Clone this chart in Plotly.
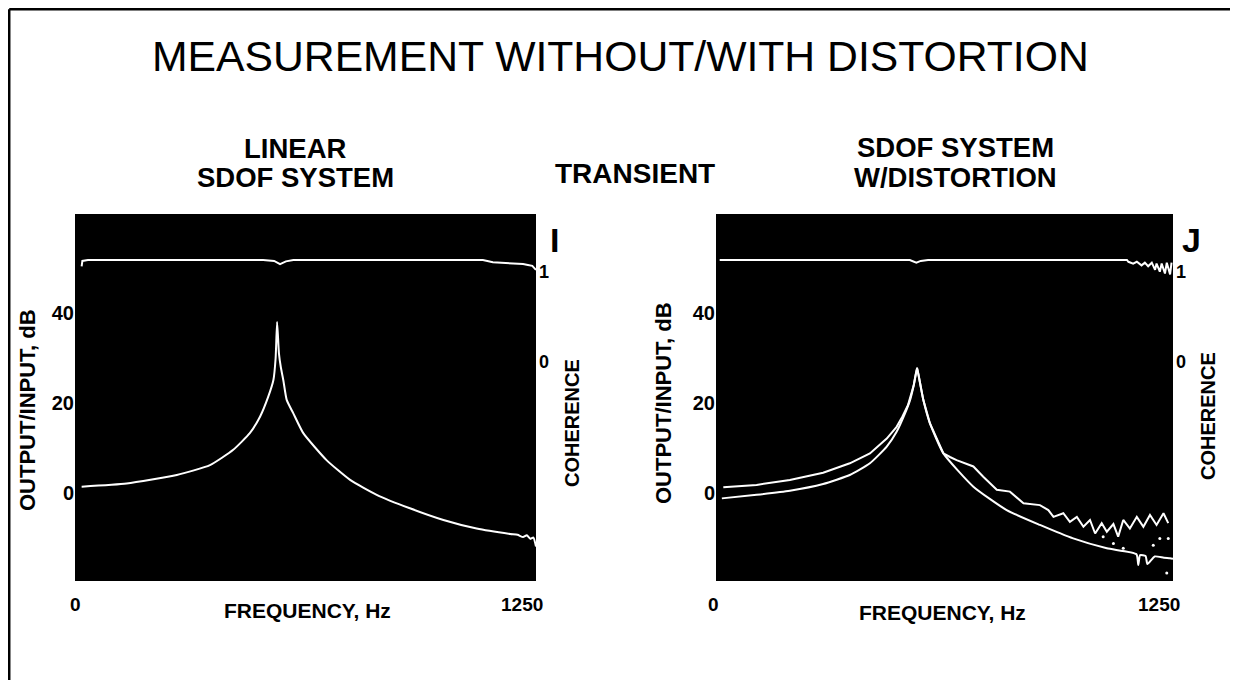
import plotly.graph_objects as go

# ---------------- data ----------------
# Left panel: linear SDOF system, transfer function (dB)
left_freq = [18, 140, 276, 366, 429, 474, 502, 524, 538, 544, 548, 553, 558, 565, 574,
             592, 619, 682, 746, 818, 908, 999, 1089, 1180, 1200, 1215, 1225, 1235, 1243, 1250]
left_db = [1.4, 2.1, 4.0, 6.2, 9.6, 13.3, 17.0, 21.4, 25.1, 30.0, 38.0, 31.0, 28.0, 25.0, 20.7,
           17.7, 13.3, 7.3, 2.9, -0.4, -3.4, -6.0, -7.9, -9.1, -9.3, -9.8, -9.4, -10.2, -9.9, -11.9]

# Left panel coherence
left_coh_freq = [18, 20, 35, 55, 80, 110, 200, 400, 510, 540, 556, 572, 592, 800, 1000,
                 1106, 1133, 1160, 1190, 1215, 1228, 1240, 1250]
left_coh = [0.93, 0.99, 1.0, 1.0, 1.0, 1.0, 1.0, 1.0, 1.0, 0.99, 0.955, 0.985, 1.0, 1.0, 1.0,
            1.0, 0.975, 0.97, 0.965, 0.955, 0.945, 0.935, 0.89]

# Right panel: SDOF system with distortion, smooth estimate (dB)
right_a_freq = [16, 111, 202, 293, 366, 421, 467, 494, 517, 531, 541, 550, 558, 567, 585,
                622, 704, 795, 886, 977, 1069, 1150, 1155, 1160, 1175, 1180, 1200, 1225, 1242, 1250]
right_a_db = [-1.2, -0.4, 0.5, 2.0, 4.0, 6.6, 10.3, 13.6, 17.7, 20.7, 24.0, 27.8, 24.5, 20.7, 15.5,
              8.8, 1.4, -3.8, -7.1, -10.1, -12.3, -13.6, -16.0, -13.8, -14.0, -15.8, -14.1, -14.4, -14.5, -14.6]

# Right panel: distorted estimate (dB)
right_b_freq = [20, 111, 202, 293, 366, 421, 467, 494, 510, 525, 541, 550, 558, 567, 585,
                622, 640, 658, 704, 731, 768, 804, 841, 886, 909, 923, 950, 968, 987, 1005,
                1023, 1037, 1055, 1069, 1087, 1100, 1114, 1132, 1151, 1169, 1187, 1205, 1224, 1237]
right_b_db = [1.3, 1.8, 2.9, 4.5, 6.6, 8.8, 12.1, 14.7, 17.0, 19.5, 24.0, 27.8, 24.5, 20.7, 15.5,
              8.8, 8.0, 7.3, 5.9, 3.6, 0.7, 0.3, -2.3, -2.7, -3.8, -5.3, -4.5, -6.4, -5.3, -7.5,
              -6.0, -9.0, -6.7, -8.6, -6.9, -9.7, -6.0, -7.9, -5.3, -7.5, -4.9, -7.1, -4.5, -6.7]

# Right panel: scattered points
right_dot_freq = [1059, 1087, 1114, 1196, 1214, 1237, 1233]
right_dot_db = [-9.7, -11.2, -12.3, -11.6, -10.1, -10.1, -17.8]

# Right panel coherence
right_coh_freq = [10, 200, 400, 530, 548, 560, 580, 800, 1000, 1124, 1128, 1141, 1151, 1164,
                  1173, 1182, 1192, 1201, 1205, 1214, 1219, 1228, 1233, 1242, 1246]
right_coh = [1.0, 1.0, 1.0, 1.0, 0.97, 0.99, 1.0, 1.0, 1.0, 1.0, 0.98, 0.96, 0.98, 0.94,
             0.97, 0.93, 0.97, 0.89, 0.96, 0.87, 0.96, 0.85, 0.97, 0.84, 0.97]

db_ticks = [0, 20, 40]
coh_ticks = [0, 1]
x_tick_labels = ["0", "1250"]
x_range = [0, 1250]
db_range = [-19.56, 62.0]
coh_range = [-2.567, 1.511]

# ---------------- figure ----------------
OFF = 8  # page offset of the figure (browser body margin)
W, H = 1238 - 2 * OFF, 688 - 2 * OFF
def px(x):
    return (x - OFF) / W
def py(y):
    return 1 - (y - OFF) / H

BOLD = "Liberation Sans, Arial, sans-serif"
line = dict(color="white", width=2)
sline = dict(color="white", width=2, shape="spline", smoothing=0.5)

fig = go.Figure()
fig.add_trace(go.Scatter(x=left_freq, y=left_db, mode="lines", line=sline, xaxis="x", yaxis="y"))
fig.add_trace(go.Scatter(x=left_coh_freq, y=left_coh, mode="lines", line=line, xaxis="x", yaxis="y3"))
fig.add_trace(go.Scatter(x=right_a_freq, y=right_a_db, mode="lines", line=sline, xaxis="x2", yaxis="y2"))
fig.add_trace(go.Scatter(x=right_b_freq, y=right_b_db, mode="lines", line=line, xaxis="x2", yaxis="y2"))
fig.add_trace(go.Scatter(x=right_dot_freq, y=right_dot_db, mode="markers",
                         marker=dict(color="white", size=3), xaxis="x2", yaxis="y2"))
fig.add_trace(go.Scatter(x=right_coh_freq, y=right_coh, mode="lines", line=line, xaxis="x2", yaxis="y4"))

ydom = [py(581), py(214)]
common = dict(showgrid=False, zeroline=False, showline=False, ticks="", fixedrange=True)
tickfont = dict(family=BOLD, size=20, color="black", weight="bold")
cohfont = dict(family=BOLD, size=18, color="black", weight="bold")

fig.update_layout(
    width=W, height=H,
    margin=dict(l=0, r=0, t=0, b=0),
    paper_bgcolor="white", plot_bgcolor="black",
    showlegend=False,
    xaxis=dict(domain=[px(75), px(536)], range=x_range, showticklabels=False, anchor="y", **common),
    yaxis=dict(domain=ydom, range=db_range, tickvals=db_ticks, tickfont=tickfont, anchor="x",
               ticklabelstandoff=0, **common),
    yaxis3=dict(range=coh_range, overlaying="y", side="right", anchor="x", tickvals=coh_ticks,
                tickfont=cohfont, ticklabelshift=12, ticklabelstandoff=2, **common),
    xaxis2=dict(domain=[px(716), px(1173)], range=x_range, showticklabels=False, anchor="y2", **common),
    yaxis2=dict(domain=ydom, range=db_range, tickvals=db_ticks, tickfont=tickfont, anchor="x2",
                ticklabelstandoff=0, **common),
    yaxis4=dict(range=coh_range, overlaying="y2", side="right", anchor="x2", tickvals=coh_ticks,
                tickfont=cohfont, ticklabelshift=12, ticklabelstandoff=2, **common),
)

def ann(text, x, y, size, bold=True, angle=0, family=BOLD, **kw):
    fig.add_annotation(text=text, x=px(x), y=py(y), xref="paper", yref="paper",
                       showarrow=False, textangle=angle, xanchor="center", yanchor="middle",
                       font=dict(family=family, size=size, color="black",
                                 weight="bold" if bold else "normal"), **kw)

ann("MEASUREMENT WITHOUT/WITH DISTORTION", 620, 56, 42.7, bold=False)
ann("LINEAR", 295, 148, 27.5)
ann("SDOF SYSTEM", 295, 177, 27.5)
ann("TRANSIENT", 635, 173, 28)
ann("SDOF SYSTEM", 955, 147, 27.5)
ann("W/DISTORTION", 955, 177, 27.5)

ann("OUTPUT/INPUT, dB", 27, 410, 22, angle=-90)
ann("OUTPUT/INPUT, dB", 663, 403, 22, angle=-90)
ann("COHERENCE", 572, 423, 20, angle=-90)
ann("COHERENCE", 1208, 416, 20, angle=-90)
ann("I", 554, 240, 34)
ann("J", 1191, 240, 34)
ann("FREQUENCY, Hz", 307, 610, 21)
ann("FREQUENCY, Hz", 942, 612, 21)

# x tick labels placed at the axis ends
for xa, offs in (("x", (0, -14)), ("x2", (-3, -14))):
    for val, lab, dx in zip(x_range, x_tick_labels, offs):
        fig.add_annotation(text=lab, x=val, y=py(604), xref=xa, yref="paper", showarrow=False,
                           xanchor="center", yanchor="middle", xshift=dx,
                           font=dict(family=BOLD, size=19, color="black", weight="bold"))

# outer frame: only the top and left edges are visible in the picture
frame = dict(color="black", width=2.5)
fig.add_shape(type="line", xref="paper", yref="paper", x0=0.001, y0=0.998, x1=1.0, y1=0.998, line=frame)
fig.add_shape(type="line", xref="paper", yref="paper", x0=0.001, y0=0.0, x1=0.001, y1=0.998, line=frame)

fig.write_html("out.html")
